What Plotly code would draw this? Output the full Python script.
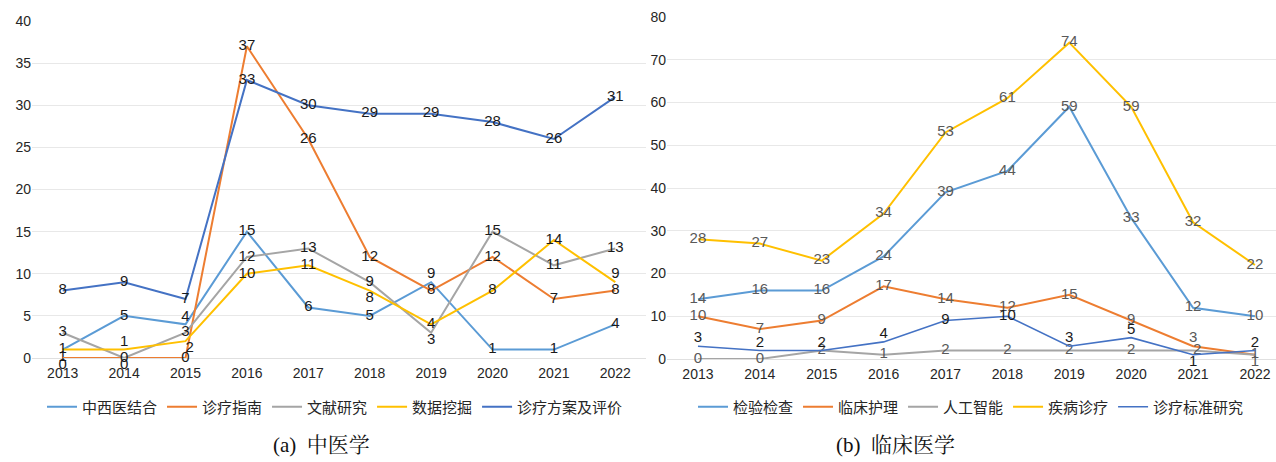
import plotly.graph_objects as go

years = ["2013", "2014", "2015", "2016", "2017", "2018", "2019", "2020", "2021", "2022"]

# (a) 中医学
tcm_names = ["中西医结合", "诊疗指南", "文献研究", "数据挖掘", "诊疗方案及评价"]
tcm_zxy = [1, 5, 4, 15, 6, 5, 9, 1, 1, 4]
tcm_zlzn = [0, 0, 0, 37, 26, 12, 8, 12, 7, 8]
tcm_wxyj = [3, 0, 3, 12, 13, 9, 3, 15, 11, 13]
tcm_sjwj = [1, 1, 2, 10, 11, 8, 4, 8, 14, 9]
tcm_zlfa = [8, 9, 7, 33, 30, 29, 29, 28, 26, 31]

# (b) 临床医学
cm_names = ["检验检查", "临床护理", "人工智能", "疾病诊疗", "诊疗标准研究"]
cm_jyjc = [14, 16, 16, 24, 39, 44, 59, 33, 12, 10]
cm_lchl = [10, 7, 9, 17, 14, 12, 15, 9, 3, 1]
cm_rgzn = [0, 0, 2, 1, 2, 2, 2, 2, 2, 1]
cm_jbzl = [28, 27, 23, 34, 53, 61, 74, 59, 32, 22]
cm_zlbz = [3, 2, 2, 4, 9, 10, 3, 5, 1, 2]

colors = ["#5B9BD5", "#ED7D31", "#A5A5A5", "#FFC000", "#4472C4"]

MC = "middle center"
TC = "top center"
BC = "bottom center"
tcm_pos = [
    [BC, MC, TC, MC, MC, MC, TC, MC, MC, MC],
    [BC, BC, MC, MC, MC, MC, MC, MC, MC, MC],
    [MC, MC, MC, MC, MC, MC, BC, MC, MC, MC],
    [MC, TC, "bottom right", MC, MC, BC, MC, MC, MC, TC],
    [MC] * 10,
]
cm_pos = [
    [MC] * 10,
    [MC, MC, MC, MC, MC, MC, MC, MC, TC, BC],
    [MC, MC, MC, MC, MC, MC, MC, MC, "middle right", MC],
    [MC] * 10,
    [TC, TC, TC, TC, MC, MC, TC, TC, BC, TC],
]

fig = go.Figure()

tcm_series = [tcm_zxy, tcm_zlzn, tcm_wxyj, tcm_sjwj, tcm_zlfa]
for name, vals, col, pos in zip(tcm_names, tcm_series, colors, tcm_pos):
    fig.add_trace(go.Scatter(
        x=years, y=vals, name=name, mode="lines+text",
        text=[str(v) for v in vals], textposition=pos,
        textfont=dict(family="Liberation Sans, Arial", size=15, color="#1a1a1a"),
        line=dict(color=col, width=2),
        xaxis="x", yaxis="y", legend="legend",
        cliponaxis=False,
    ))

cm_series = [cm_jyjc, cm_lchl, cm_rgzn, cm_jbzl, cm_zlbz]
for i, (name, vals, col, pos) in enumerate(zip(cm_names, cm_series, colors, cm_pos)):
    fig.add_trace(go.Scatter(
        x=years, y=vals, name=name, mode="lines+text",
        text=[str(v) for v in vals], textposition=pos,
        textfont=dict(family="Liberation Sans, Arial", size=15,
                      color="#1a1a1a" if i == 4 else "#595959"),
        line=dict(color=col, width=1.6 if i == 4 else 2),
        xaxis="x2", yaxis="y2", legend="legend2",
        cliponaxis=False,
    ))

tickfont = dict(family="Liberation Sans, Arial", size=14, color="#262626")
xcommon = dict(showgrid=False, zeroline=False, showline=False, ticks="",
               tickfont=tickfont, fixedrange=True, automargin=False,
               ticklabelstandoff=5)
ycommon = dict(showgrid=True, gridcolor="#E8E8E8", gridwidth=1,
               zeroline=True, zerolinecolor="#E0E0E0", zerolinewidth=1,
               showline=False, ticks="", tickfont=tickfont, fixedrange=True,
               automargin=False)

fig.update_layout(
    width=1276, height=462,
    margin=dict(l=0, r=0, t=0, b=0, autoexpand=False),
    paper_bgcolor="white", plot_bgcolor="white",
    xaxis=dict(domain=[32 / 1276, 646 / 1276], range=[-0.5, 9.5], type="category",
               anchor="y", **xcommon),
    yaxis=dict(domain=[1 - 358 / 462, 1 - 21 / 462], range=[0, 40], dtick=5,
               anchor="x", **ycommon),
    xaxis2=dict(domain=[667 / 1276, 1.0], range=[-0.5, 9.34], type="category",
                anchor="y2", **xcommon),
    yaxis2=dict(domain=[1 - 359 / 462, 1 - 17 / 462], range=[0, 80], dtick=10,
                anchor="x2", **ycommon),
    legend=dict(orientation="h", x=335 / 1276, xanchor="center",
                y=1 - 407 / 462, yanchor="middle",
                font=dict(family="Noto Sans CJK SC", size=15, color="#262626"),
                itemwidth=30, tracegroupgap=0, bgcolor="rgba(0,0,0,0)"),
    legend2=dict(orientation="h", x=971 / 1276, xanchor="center",
                 y=1 - 407 / 462, yanchor="middle",
                 font=dict(family="Noto Sans CJK SC", size=15, color="#262626"),
                 itemwidth=30, tracegroupgap=0, bgcolor="rgba(0,0,0,0)"),
    annotations=[
        dict(text="(a)  中医学", x=321 / 1276, y=1 - 445 / 462, xref="paper", yref="paper",
             xanchor="center", yanchor="middle", showarrow=False,
             font=dict(family="Liberation Serif, Noto Serif CJK SC, Noto Sans CJK SC",
                       size=21, color="#111111")),
        dict(text="(b)  临床医学", x=895 / 1276, y=1 - 445 / 462, xref="paper", yref="paper",
             xanchor="center", yanchor="middle", showarrow=False,
             font=dict(family="Liberation Serif, Noto Serif CJK SC, Noto Sans CJK SC",
                       size=21, color="#111111")),
    ],
    showlegend=True,
)

fig.write_html("out.html", config={"displayModeBar": False},
               post_script="document.body.style.margin='0';document.body.style.overflow='hidden';")
